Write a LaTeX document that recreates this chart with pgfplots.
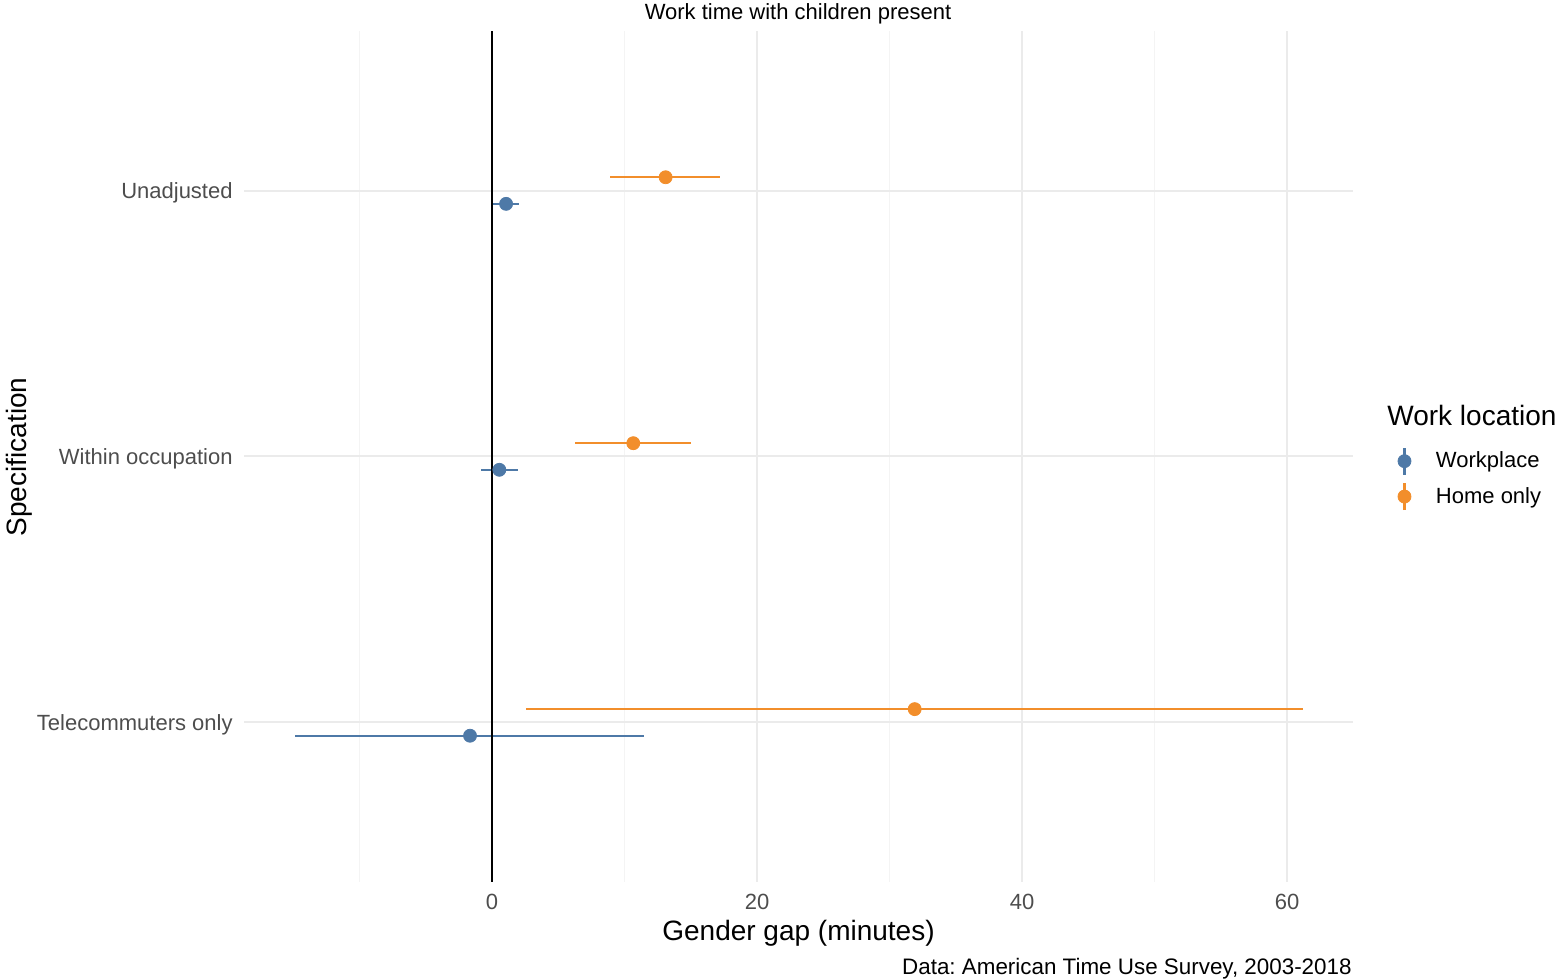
\documentclass[border=0pt]{standalone}
\usepackage{pgfplots}
\pgfplotsset{compat=1.18}
\usepackage{pgfplotstable}
\usepackage{fontspec}
\setmainfont{Liberation Sans}
\definecolor{wpblue}{HTML}{4E79A7}
\definecolor{hoorange}{HTML}{F28E2B}
\definecolor{gridmaj}{HTML}{EBEBEB}
\definecolor{gridmin}{HTML}{F4F4F4}
\definecolor{ticktext}{HTML}{4D4D4D}

\pgfplotstableread{
y x lo hi
2.95 1.06 0.00 2.06
1.95 0.55 -0.85 1.94
0.95 -1.66 -14.9 11.5
}\workplace
\pgfplotstableread{
y x lo hi
3.05 13.1 8.9 17.2
2.05 10.66 6.29 15.04
1.05 31.9 2.57 61.2
}\homeonly

\begin{document}
\frenchspacing
\begin{tikzpicture}
\useasboundingbox (0,0) rectangle (780bp,490bp);
\begin{axis}[
  at={(122bp,49bp)}, anchor=south west,
  scale only axis, width=554.5bp, height=425.5bp,
  xmin=-18.72, xmax=64.98, ymin=0.4, ymax=3.6,
  axis line style={draw=none},
  tick style={draw=none},
  major tick length=0pt, minor tick length=0pt,
  xtick={0,20,40,60}, minor xtick={-10,10,30,50},
  ytick={1,2,3}, yticklabels={Telecommuters only,Within occupation,Unadjusted},
  xmajorgrids, ymajorgrids, xminorgrids,
  major grid style={gridmaj, line width=1bp},
  minor grid style={gridmin, line width=0.6bp},
  ticklabel style={font=\fontsize{11bp}{13bp}\selectfont, text=ticktext},
  xticklabel style={anchor=north, inner sep=0pt, yshift=-6bp},
  yticklabel style={anchor=east, inner sep=0pt, xshift=-5.5bp, yshift=-1bp},
  /pgf/number format/assume math mode=true,
  legend cell align=left,
  legend style={draw=none, fill=none, inner sep=0pt, outer sep=0pt,
    row sep=3bp, column sep=12.3bp,
    nodes={inner sep=0pt, font=\fontsize{11bp}{13bp}\selectfont, text=black},
    at={(axis description cs:1.0402,0.5118)}, anchor=north west},
]
\addplot[only marks, mark=*, mark size=3.25bp, color=wpblue,
  mark options={draw=wpblue, fill=wpblue},
  legend image code/.code={\draw[wpblue, line width=1.2bp] (0bp,-6.75bp) -- (0bp,6.75bp); \fill[wpblue] (0bp,0bp) circle (3.25bp);},
  error bars/.cd, x dir=both, x explicit, error mark=none,
  error bar style={line width=1.2bp, wpblue}]
  table[x=x, y=y, x error plus expr=\thisrow{hi}-\thisrow{x}, x error minus expr=\thisrow{x}-\thisrow{lo}] {\workplace};
\addlegendentry{Workplace}
\addplot[only marks, mark=*, mark size=3.25bp, color=hoorange,
  mark options={draw=hoorange, fill=hoorange},
  legend image code/.code={\draw[hoorange, line width=1.2bp] (0bp,-6.75bp) -- (0bp,6.75bp); \fill[hoorange] (0bp,0bp) circle (3.25bp);},
  error bars/.cd, x dir=both, x explicit, error mark=none,
  error bar style={line width=1.2bp, hoorange}]
  table[x=x, y=y, x error plus expr=\thisrow{hi}-\thisrow{x}, x error minus expr=\thisrow{x}-\thisrow{lo}] {\homeonly};
\addlegendentry{Home only}
\addplot[black, line width=1.1bp, forget plot] coordinates {(0,0.4) (0,3.6)};
\end{axis}
\node[anchor=base, inner sep=0pt, font=\fontsize{11bp}{13bp}\selectfont] at (399bp,480bp) {Work time with children present};
\node[anchor=base, inner sep=0pt, font=\fontsize{14bp}{16bp}\selectfont] at (399.25bp,20bp) {Gender gap (minutes)};
\node[anchor=base, inner sep=0pt, rotate=90, font=\fontsize{14bp}{16bp}\selectfont] at (13bp,261.5bp) {Specification};
\node[anchor=base east, inner sep=0pt, font=\fontsize{11.2bp}{13bp}\selectfont] at (676bp,3bp) {Data: American Time Use Survey, 2003-2018};
\node[anchor=base west, inner sep=0pt, font=\fontsize{14bp}{16bp}\selectfont] at (693.5bp,277bp) {Work location};
\end{tikzpicture}
\end{document}
